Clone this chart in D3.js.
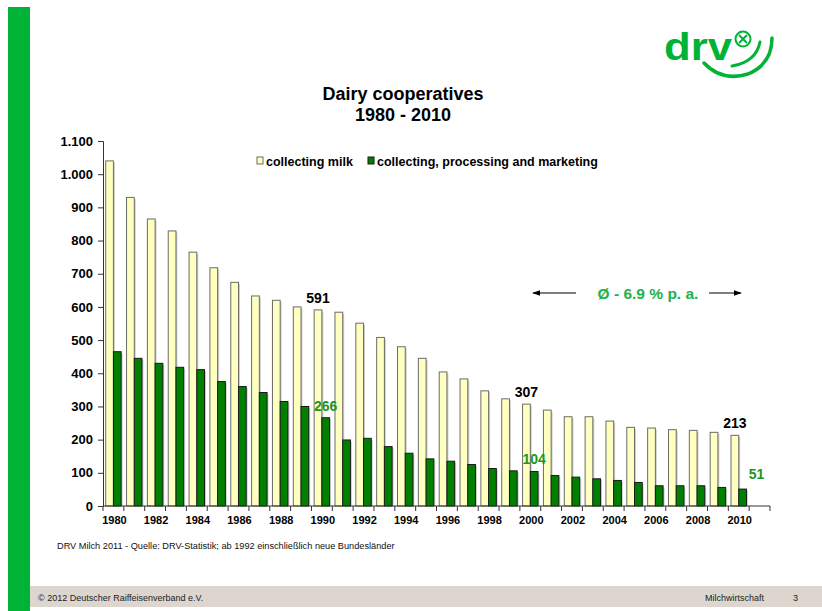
<!DOCTYPE html>
<html><head><meta charset="utf-8">
<script src="https://cdn.jsdelivr.net/npm/d3@7"></script>
<style>body{margin:0;background:#fff}svg{display:block}text{font-family:Arial,"Liberation Sans",sans-serif}</style>
</head><body>
<script>
const years = d3.range(1980, 2012).map(String); // 2011 slot empty
const collectingMilk = [1040,930,865,829,765,718,674,633,620,600,591,584,551,508,480,445,404,383,347,323,307,289,269,269,256,237,235,230,228,222,213];
const processingMarketing = [465,445,430,418,411,375,360,342,315,300,266,199,204,179,159,142,135,125,113,106,104,92,87,82,77,71,61,61,61,56,51];
const seriesNames = ["collecting milk","collecting, processing and marketing"];
const yTicks = [0,100,200,300,400,500,600,700,800,900,1000,1100];
const xLabelYears = d3.range(1980, 2011, 2).map(String);
const annotations = [
  {year:"1990", series:0, value:591, text:"591"},
  {year:"1990", series:1, value:266, text:"266"},
  {year:"2000", series:0, value:307, text:"307"},
  {year:"2000", series:1, value:104, text:"104"},
  {year:"2010", series:0, value:213, text:"213"},
  {year:"2010", series:1, value:51,  text:"51"}
];
const titleLines = ["Dairy cooperatives","1980 - 2010"];
const growthText = "Ø - 6.9 % p. a.";
const footnote = "DRV Milch 2011 - Quelle: DRV-Statistik; ab 1992 einschließlich neue Bundesländer";
const footerLeft = "© 2012 Deutscher Raiffeisenverband e.V.";
const footerRight = "Milchwirtschaft";
const pageNo = "3";

const W = 822, H = 611;
const svg = d3.select("body").append("svg").attr("width", W).attr("height", H);

const fills = ["#FFFFC0", "#008000"];
const strokes = ["#6b6b6b", "#1a1a1a"];
const labelColors = ["#000", "#1e961e"];

// page decoration
svg.append("rect").attr("x", 30).attr("y", 586).attr("width", W - 30).attr("height", 21).attr("fill", "#DDD6CF");
svg.append("rect").attr("x", 8).attr("y", 7).attr("width", 22).attr("height", 604).attr("fill", "#00B336");

// logo
const logo = svg.append("g");
logo.append("text").attr("x", 664).attr("y", 60).attr("font-size", 38).attr("font-weight", "bold")
  .attr("fill", "#00B336").attr("textLength", 68).attr("lengthAdjust", "spacingAndGlyphs").text("drv");
logo.append("circle").attr("cx", 743).attr("cy", 39).attr("r", 7.5).attr("fill", "none").attr("stroke", "#00B336").attr("stroke-width", 2);
logo.append("path").attr("d", "M739,35 L747,43 M747,35 L739,43").attr("stroke", "#00B336").attr("stroke-width", 2);
logo.append("path").attr("d", "M704,63 Q722,82 748,74 Q772,64 772,38").attr("fill", "none").attr("stroke", "#00B336").attr("stroke-width", 3.5).attr("stroke-linecap", "round");
logo.append("path").attr("d", "M732,66 Q756,62 760,42").attr("fill", "none").attr("stroke", "#00B336").attr("stroke-width", 3).attr("stroke-linecap", "round");

// title
svg.append("text").attr("x", 403).attr("y", 100).attr("text-anchor", "middle").attr("font-size", 18).attr("font-weight", "bold").text(titleLines[0]);
svg.append("text").attr("x", 403).attr("y", 121).attr("text-anchor", "middle").attr("font-size", 18).attr("font-weight", "bold").text(titleLines[1]);

// scales
const x = d3.scaleBand().domain(years).range([103, 770]).padding(0);
const xs = d3.scaleBand().domain([0, 1]).range([0, x.bandwidth()]).paddingInner(0).paddingOuter(0.35);
const y = d3.scaleLinear().domain([0, 1100]).range([506, 141]);
const loc = d3.formatLocale({decimal: ",", thousands: ".", grouping: [3], currency: ["", ""]});
const fmt = loc.format(",");

// bars
const data = [collectingMilk, processingMarketing];
data.forEach((vals, si) => {
  const g = svg.append("g");
  g.selectAll("rect.sh").data(vals).join("rect")
    .attr("x", (d, i) => x(years[i]) + xs(si) + 1.5)
    .attr("y", d => y(d) + 1.5)
    .attr("width", xs.bandwidth())
    .attr("height", d => y(0) - y(d) - 1.5)
    .attr("fill", "#b0b0b0").attr("opacity", 0.6);
  g.selectAll("rect.bar").data(vals).join("rect")
    .attr("x", (d, i) => x(years[i]) + xs(si))
    .attr("y", d => y(d))
    .attr("width", xs.bandwidth())
    .attr("height", d => y(0) - y(d))
    .attr("fill", fills[si]).attr("stroke", strokes[si]).attr("stroke-width", 1);
});

// y axis
const yAxis = svg.append("g").attr("transform", "translate(103,0)")
  .call(d3.axisLeft(y).tickValues(yTicks).tickFormat(fmt).tickSize(5).tickPadding(5));
yAxis.select(".domain").attr("stroke", "#333");
yAxis.selectAll(".tick line").attr("stroke", "#333");
yAxis.selectAll("text").attr("font-size", 13).attr("font-weight", "bold").attr("fill", "#000")
  .attr("font-family", "Arial, 'Liberation Sans', sans-serif");

// x axis: line + boundary ticks + labels
const xAxis = svg.append("g").attr("transform", "translate(0,506)");
xAxis.append("line").attr("x1", x.range()[0]).attr("x2", x.range()[1]).attr("stroke", "#333");
const bounds = years.map(d => x(d)).concat([x.range()[1]]);
xAxis.selectAll("line.t").data(bounds).join("line").attr("class", "t")
  .attr("x1", d => d).attr("x2", d => d).attr("y1", 0).attr("y2", 5).attr("stroke", "#333");
xAxis.selectAll("text").data(xLabelYears).join("text")
  .attr("x", d => x(d) + x.bandwidth() / 2 + 1).attr("y", 18).attr("text-anchor", "middle")
  .attr("font-size", 11).attr("font-weight", "bold").text(d => d);

// legend
const leg = svg.append("g").attr("transform", "translate(257,157)");
const legX = [0, 111];
seriesNames.forEach((n, i) => {
  leg.append("rect").attr("x", legX[i]).attr("y", 0).attr("width", 6).attr("height", 7)
    .attr("fill", fills[i]).attr("stroke", strokes[i]);
  leg.append("text").attr("x", legX[i] + 9).attr("y", 8.5).attr("font-size", 12.5).attr("font-weight", "bold").text(n);
});

// annotations
annotations.forEach(a => {
  const cx = x(a.year) + xs(a.series) + xs.bandwidth() / 2 + (a.text === "51" ? 14 : 0);
  const dy = a.text === "51" ? -10 : -7;
  svg.append("text").attr("x", cx).attr("y", y(a.value) + dy).attr("text-anchor", "middle")
    .attr("font-size", 14).attr("font-weight", "bold").attr("fill", labelColors[a.series]).text(a.text);
});

// growth annotation with arrows
const defs = svg.append("defs");
defs.append("marker").attr("id", "ah").attr("viewBox", "0 0 10 10").attr("refX", 9).attr("refY", 5)
  .attr("markerWidth", 8).attr("markerHeight", 8).attr("orient", "auto")
  .append("path").attr("d", "M0,1.5 L10,5 L0,8.5 Z").attr("fill", "#000");
svg.append("line").attr("x1", 576).attr("y1", 293).attr("x2", 533).attr("y2", 293).attr("stroke", "#000").attr("stroke-width", 1).attr("marker-end", "url(#ah)");
svg.append("line").attr("x1", 709).attr("y1", 293).attr("x2", 741).attr("y2", 293).attr("stroke", "#000").attr("stroke-width", 1).attr("marker-end", "url(#ah)");
svg.append("text").attr("x", 648).attr("y", 299).attr("text-anchor", "middle").attr("font-size", 15.5).attr("font-weight", "bold")
  .attr("fill", "#22b04b").text(growthText);

// footnote & footer
svg.append("text").attr("x", 57).attr("y", 549).attr("font-size", 9.2).attr("fill", "#111").text(footnote);
svg.append("text").attr("x", 38).attr("y", 601).attr("font-size", 9).attr("fill", "#222").text(footerLeft);
svg.append("text").attr("x", 705).attr("y", 601).attr("font-size", 9).attr("fill", "#222").text(footerRight);
svg.append("text").attr("x", 793).attr("y", 601).attr("font-size", 9).attr("fill", "#222").text(pageNo);
</script>
</body></html>
